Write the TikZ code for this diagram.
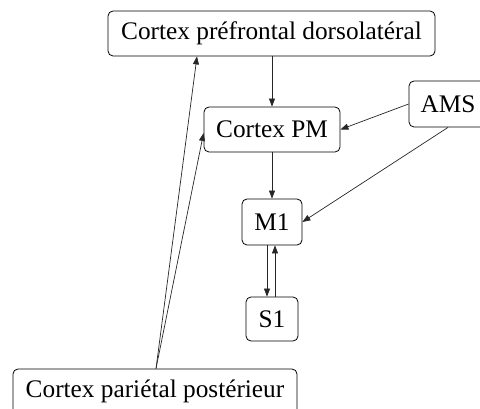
\documentclass[tikz,border=0pt]{standalone}
\usepackage{fontspec}
\setmainfont{Liberation Serif}
\usetikzlibrary{arrows.meta}
\begin{document}
\begin{tikzpicture}[x=1pt,y=-1pt,
  box/.style={draw, line width=0.8pt, rounded corners=5pt, inner sep=0pt,
    font=\fontsize{25.3}{30}\selectfont},
  conn/.style={line width=0.7pt, draw=black!85, -{Triangle[length=8pt,width=6pt]}}]
\useasboundingbox (0,0) rectangle (480,409);
\node[box, minimum width=327pt, minimum height=45pt] (dlpfc) at (271.5,33.5) {Cortex préfrontal dorsolatéral};
\node[box, minimum width=136pt, minimum height=45pt] (pm) at (272,129.5) {Cortex PM};
\node[box, minimum width=78pt, minimum height=46pt] (ams) at (448,104) {AMS};
\node[box, minimum width=60pt, minimum height=46pt] (m1) at (272,222) {M1};
\node[box, minimum width=52pt, minimum height=44pt] (s1) at (272,319) {S1};
\node[box, minimum width=284pt, minimum height=45pt] (ppc) at (155,391.5) {Cortex pariétal postérieur};
\draw[conn] (dlpfc.south -| pm.north) -- (pm.north);
\draw[conn] (pm.south) -- (m1.north);
\draw[conn] (ams.west) -- (pm.east);
\draw[conn] (ams.south) -- (m1.east);
\draw[conn] ([xshift=-5pt]m1.south) -- ([xshift=-5pt]s1.north);
\draw[conn] ([xshift=3pt]s1.north) -- ([xshift=3pt]m1.south);
\draw[conn] ([xshift=1pt]ppc.north) -- ([xshift=-74.5pt]dlpfc.south);
\draw[conn] ([xshift=1pt]ppc.north) -- ([yshift=-3.5pt]pm.west);
\end{tikzpicture}
\end{document}
